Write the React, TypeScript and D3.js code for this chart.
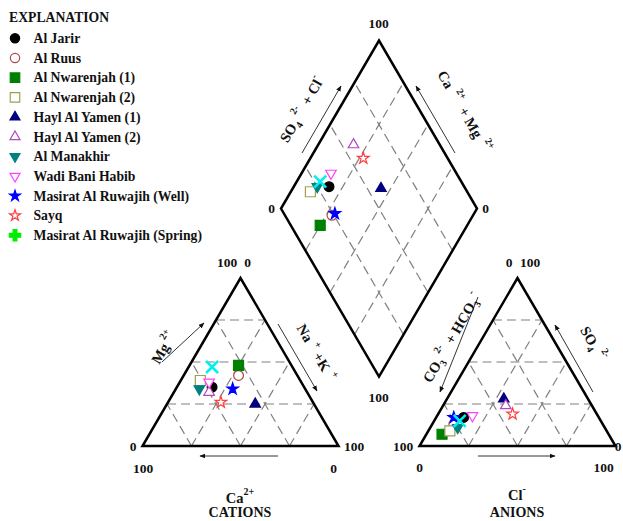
import React from "react";
import * as d3 from "d3";

// ---------------- DATA ----------------
const sampleNames = [
  "Al Jarir",
  "Al Ruus",
  "Al Nwarenjah (1)",
  "Al Nwarenjah (2)",
  "Hayl Al Yamen (1)",
  "Hayl Al Yamen (2)",
  "Al Manakhir",
  "Wadi Bani Habib",
  "Masirat Al Ruwajih (Well)",
  "Sayq",
  "Masirat Al Ruwajih (Spring)",
  "",
];
const inLegend = [true, true, true, true, true, true, true, true, true, true, true, false];
const markerShapes = ["circle", "circle", "square", "square", "triangle", "triangle", "triangleDown", "triangleDown", "star", "star", "plus", "x"];
const markerFilled = [true, false, true, false, true, false, true, false, true, false, true, true];
const markerColors = ["#000000", "#b04848", "#008000", "#a0a050", "#000080", "#b448c0", "#008080", "#ff40ff", "#0000ff", "#ff4040", "#00ee00", "#00f0f0"];

// cations (% meq)
const caPct = [47, 30, 27, 51, 30, 50, 54, 47, 37, 47, null, 41];
const mgPct = [35, 42, 48, 39, 25, 32, 34, 38, 34, 26, null, 47];
const naKPct = [18, 28, 25, 10, 45, 18, 12, 15, 29, 27, null, 12];
// anions (% meq)
const hco3Pct = [69, 76, 85, 80, 43, 44, 75, 64, 74, 43, null, 72];
const so4Pct = [17, 13, 7, 9, 28, 24, 11, 18, 17, 19, null, 15];
const clPct = [14, 11, 8, 11, 29, 32, 14, 18, 9, 38, null, 13];

const gridTicks = [25, 50, 75];

// ---------------- GEOMETRY ----------------
const S = 196;
const H = 168;
const X0 = 142.5;
const BASE = 446;
const GAP = 81;
const AX0 = X0 + S + GAP;

const fx = d3.scaleLinear().domain([0, 100]).range([0, S]);
const fy = d3.scaleLinear().domain([0, 100]).range([0, H]);

const BX = X0 + S + GAP / 2;
const BY = BASE - (GAP * H) / S;

const cationXY = (ca: number, mg: number, nak: number): [number, number] => [X0 + fx(nak + mg / 2), BASE - fy(mg)];
const anionXY = (hco3: number, so4: number, cl: number): [number, number] => [AX0 + fx(cl + so4 / 2), BASE - fy(so4)];
const diamondXY = (cm: number, sc: number): [number, number] => [BX + fx((sc - cm) / 2), BY - fy(sc + cm)];

const FONT = "'Liberation Serif', 'Times New Roman', serif";

function Marker({ shape, filled, color, x, y, scale = 1 }: any) {
  const fill = filled ? color : "#ffffff";
  const sw = 1.2;
  if (shape === "x") {
    const r = 6 * scale;
    return (
      <path
        d={`M${-r},${-r}L${r},${r}M${-r},${r}L${r},${-r}`}
        transform={`translate(${x},${y})`}
        stroke={color}
        strokeWidth={2.6}
        fill="none"
      />
    );
  }
  let type: any = d3.symbolCircle;
  let size = 75;
  let rot = 0;
  if (shape === "square") { type = d3.symbolSquare; size = 100; }
  if (shape === "triangle") { type = d3.symbolTriangle; size = 48; }
  if (shape === "triangleDown") { type = d3.symbolTriangle; size = 48; rot = 180; }
  if (shape === "star") { type = d3.symbolStar; size = 42; }
  if (shape === "plus") { type = d3.symbolCross; size = 80; }
  const d = d3.symbol().type(type).size(size * scale * scale)() as string;
  return (
    <path
      d={d}
      transform={`translate(${x},${y}) rotate(${rot})`}
      fill={fill}
      stroke={color}
      strokeWidth={sw}
    />
  );
}

export default function App() {
  const n = sampleNames.length;
  const idx = d3.range(n).filter((i) => caPct[i] !== null);

  const catL = cationXY(100, 0, 0), catR = cationXY(0, 0, 100), catT = cationXY(0, 100, 0);
  const anL = anionXY(100, 0, 0), anR = anionXY(0, 0, 100), anT = anionXY(0, 100, 0);
  const dB = diamondXY(0, 0), dL = diamondXY(100, 0), dR = diamondXY(0, 100), dT = diamondXY(100, 100);

  const line = d3.line();

  const cationGrid: [number, number][][] = [];
  const anionGrid: [number, number][][] = [];
  const diamondGrid: [number, number][][] = [];
  gridTicks.forEach((t) => {
    cationGrid.push([cationXY(100 - t, t, 0), cationXY(0, t, 100 - t)]);
    cationGrid.push([cationXY(100 - t, 0, t), cationXY(0, 100 - t, t)]);
    cationGrid.push([cationXY(t, 0, 100 - t), cationXY(t, 100 - t, 0)]);
    anionGrid.push([anionXY(100 - t, t, 0), anionXY(0, t, 100 - t)]);
    anionGrid.push([anionXY(100 - t, 0, t), anionXY(0, 100 - t, t)]);
    anionGrid.push([anionXY(t, 0, 100 - t), anionXY(t, 100 - t, 0)]);
    diamondGrid.push([diamondXY(t, 0), diamondXY(t, 100)]);
    diamondGrid.push([diamondXY(0, t), diamondXY(100, t)]);
  });

  const arrows: [number, number, number, number][] = [
    [162, 362, 204, 323], // Mg
    [278, 324, 317, 391], // Na+K
    [278, 456, 200, 456], // Ca
    [478, 297, 440, 392], // CO3+HCO3
    [593, 392, 555, 325], // SO4
    [478, 456, 555, 456], // Cl
    [302, 153, 341, 86], // SO4+Cl
    [455, 153, 416, 86], // Ca+Mg
  ];

  const numLabels: [string, number, number][] = [
    ["100", 227, 267], ["0", 247.5, 267],
    ["0", 133, 451], ["100", 143, 473],
    ["0", 333.5, 473], ["100", 354, 451],
    ["0", 509, 267], ["100", 530, 267],
    ["100", 403, 451], ["0", 419.5, 472],
    ["100", 603.5, 472], ["0", 618, 451],
    ["100", 378.5, 28], ["0", 271.5, 213], ["0", 485.5, 213], ["100", 378.5, 402],
  ];

  const legendY0 = 38.3;
  const legendStep = 19.7;

  return (
    <svg
      width={623}
      height={521}
      style={{ position: "absolute", left: 0, top: 0, background: "#fff" }}
      fontFamily={FONT}
      fontWeight="bold"
    >
      <defs>
        <marker id="ah" viewBox="0 0 10 10" refX="9" refY="5" markerWidth="6" markerHeight="6" orient="auto">
          <path d="M0,1 L10,5 L0,9 Z" fill="#111" />
        </marker>
      </defs>
      <rect x={0} y={0} width={623} height={521} fill="#fff" />

      {/* grid */}
      <g stroke="#808080" strokeWidth={1.2} strokeDasharray="9,5" fill="none">
        {cationGrid.map((p, i) => <path key={"cg" + i} d={line(p) as string} />)}
        {anionGrid.map((p, i) => <path key={"ag" + i} d={line(p) as string} />)}
        {diamondGrid.map((p, i) => <path key={"dg" + i} d={line(p) as string} />)}
      </g>

      {/* outlines */}
      <g stroke="#000" strokeWidth={2.5} fill="none" strokeLinejoin="miter">
        <path d={(line([catL, catR, catT]) as string) + "Z"} />
        <path d={(line([anL, anR, anT]) as string) + "Z"} />
        <path d={(line([dB, dR, dT, dL]) as string) + "Z"} />
      </g>

      {/* arrows */}
      <g stroke="#333" strokeWidth={1}>
        {arrows.map((a, i) => (
          <line key={"ar" + i} x1={a[0]} y1={a[1]} x2={a[2]} y2={a[3]} markerEnd="url(#ah)" />
        ))}
      </g>

      {/* number labels */}
      <g fontSize={13.5} textAnchor="middle" fill="#111">
        {numLabels.map((l, i) => (
          <text key={"nl" + i} x={l[1]} y={l[2]}>{l[0]}</text>
        ))}
      </g>

      {/* axis labels */}
      <g fontSize={14.5} fill="#111">
        <text transform="translate(168,350) rotate(-60)" textAnchor="middle">
          Mg<tspan dx={3} dy={-8} fontSize={10}>2+</tspan>
        </text>
        <text transform="translate(312,355) rotate(60)" textAnchor="middle">
          Na<tspan dx={5} dy={-7} fontSize={10}>+</tspan>
          <tspan dx={4} dy={7}>+</tspan>K<tspan dx={5} dy={-7} fontSize={10}>+</tspan>
        </text>
        <text x={240} y={503} textAnchor="middle">
          Ca<tspan dy={-8} fontSize={10}>2+</tspan>
        </text>
        <text x={240} y={517} fontSize={14} textAnchor="middle">CATIONS</text>
        <text x={517} y={500} textAnchor="middle">
          Cl<tspan dy={-8} fontSize={10}>-</tspan>
        </text>
        <text x={517} y={517} fontSize={14} textAnchor="middle">ANIONS</text>
        <text transform="translate(456,340) rotate(-60)" textAnchor="middle">
          CO<tspan dy={4} fontSize={10}>3</tspan>
          <tspan dy={-12} fontSize={10} dx={3}>2-</tspan>
          <tspan dy={8} dx={3}> + HCO</tspan>
          <tspan dy={4} fontSize={10}>3</tspan>
          <tspan dy={-12} fontSize={10} dx={3}>-</tspan>
        </text>
        <text transform="translate(589,346) rotate(60)" textAnchor="middle">
          SO<tspan dy={4} fontSize={10}>4</tspan>
          <tspan dy={-12} fontSize={10} dx={4}>2-</tspan>
        </text>
        <text transform="translate(306,112) rotate(-60)" textAnchor="middle">
          SO<tspan dy={4} fontSize={10}>4</tspan>
          <tspan dy={-12} fontSize={10} dx={4}>2-</tspan>
          <tspan dy={8} dx={3}> + Cl</tspan>
          <tspan dy={-8} fontSize={10}>-</tspan>
        </text>
        <text transform="translate(460,114) rotate(60)" textAnchor="middle">
          Ca<tspan dy={-8} fontSize={10} dx={6}>2+</tspan>
          <tspan dy={8} dx={4}> + Mg</tspan>
          <tspan dy={-8} fontSize={10} dx={6}>2+</tspan>
        </text>
      </g>

      {/* data points */}
      {idx.map((i) => {
        const [cx, cy] = cationXY(caPct[i] as number, mgPct[i] as number, naKPct[i] as number);
        const [ax, ay] = anionXY(hco3Pct[i] as number, so4Pct[i] as number, clPct[i] as number);
        const [dx, dy] = diamondXY(
          (caPct[i] as number) + (mgPct[i] as number),
          (so4Pct[i] as number) + (clPct[i] as number)
        );
        const props = { shape: markerShapes[i], filled: markerFilled[i], color: markerColors[i] };
        return (
          <g key={"pt" + i}>
            <Marker {...props} x={cx} y={cy} />
            <Marker {...props} x={ax} y={ay} />
            <Marker {...props} x={dx} y={dy} />
          </g>
        );
      })}

      {/* legend */}
      <g fontSize={13.7} fill="#111">
        <text x={9} y={21.5}>EXPLANATION</text>
        {d3.range(n).filter((i) => inLegend[i]).map((i, k) => {
          const y = legendY0 + k * legendStep;
          return (
            <g key={"lg" + i}>
              <Marker shape={markerShapes[i]} filled={markerFilled[i]} color={markerColors[i]} x={15} y={y} scale={0.95} />
              <text x={33.5} y={y + 4.7}>{sampleNames[i]}</text>
            </g>
          );
        })}
      </g>
    </svg>
  );
}
